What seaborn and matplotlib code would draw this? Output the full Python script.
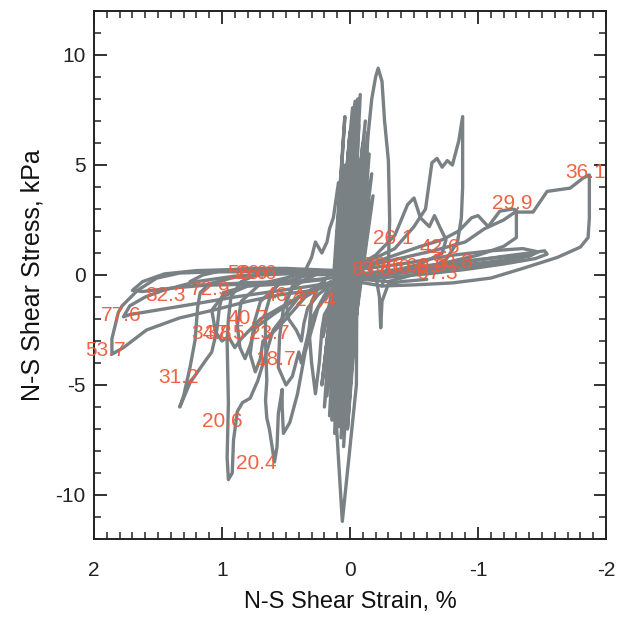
import numpy as np
import pandas as pd
import seaborn as sns
import matplotlib
matplotlib.use("Agg")
import matplotlib.pyplot as plt
from matplotlib.ticker import MultipleLocator

# ---------------- data (strain %, stress kPa) ----------------
center_x = [0.02, -0.02, 0.10, 0.03, 0.15, 0.00, 0.18, 0.04, 0.20, -0.02, 0.12, 0.05, 0.16, -0.05, 0.10,
            0.02, 0.22, -0.04, 0.12, 0.06, -0.05, -0.06, 0.14, -0.08, 0.05, -0.10, 0.12, -0.12, 0.08, -0.14,
            0.02, -0.15, 0.10, -0.17, 0.06, -0.12, 0.13, -0.08, 0.04, -0.18, 0.09, -0.06, 0.11, -0.10, 0.00,
            -0.13, 0.07, -0.04, 0.03]
center_y = [0.0, 3.0, -3.2, 4.5, -4.8, 6.5, -5.5, 7.2, -6.0, 7.6, -7.2, 5.0, -6.4, 7.8, -6.8,
            4.8, -5.0, 7.9, -5.5, -11.2, -5.0, 8.0, -6.6, 8.2, -7.8, 6.0, -6.2, 7.0, -5.8, 6.5,
            -7.0, 5.5, -4.5, 4.6, -6.5, 5.2, -3.8, 4.0, -5.6, 3.6, -4.0, 4.4, -3.0, 3.0, -4.6,
            2.5, -2.0, 1.5, -0.5]
center2_x = [0.05, 0.00, 0.14, -0.03, 0.17, 0.01, 0.09, -0.07, 0.19, -0.01, 0.13, -0.09, 0.07, -0.03,
             0.16, -0.11, 0.10, -0.05, 0.21, -0.02, 0.06, -0.14, 0.12, -0.06, 0.03]
center2_y = [-1.0, 3.5, -5.2, 5.8, -4.2, 4.2, -6.9, 6.8, -3.5, 5.4, -5.9, 4.9, -7.4, 6.2,
             -4.4, 3.8, -6.3, 5.0, -2.8, 3.3, -5.2, 4.1, -3.4, 2.0, -0.6]

peak_x = [-0.05, -0.12, -0.14, -0.17, -0.20, -0.22, -0.25, -0.27, -0.30, -0.31, -0.30, -0.25]
peak_y = [0.0, 4.0, 6.3, 8.0, 9.0, 9.4, 8.8, 7.0, 5.2, 2.5, 0.5, -0.5]

hump_x = [0.35, 0.30, 0.27, 0.22, 0.18, 0.16, 0.13, 0.10, 0.09, 0.07, 0.04]
hump_y = [0.2, 0.8, 1.5, 1.0, 1.5, 2.1, 2.6, 3.8, 4.2, 3.5, 1.0]

loop361_x = [-0.05, -0.35, -0.65, -0.90, -1.05, -1.20, -1.29, -1.43, -1.54, -1.72, -1.82, -1.87, -1.87,
             -1.86, -1.80, -1.62, -1.35, -1.10, -0.80, -0.50, -0.25, -0.05]
loop361_y = [0.3, 0.7, 1.1, 1.5, 2.1, 2.5, 2.86, 2.86, 3.8, 3.95, 4.4, 4.55, 2.6,
             1.7, 1.27, 0.8, 0.3, -0.14, -0.36, -0.45, -0.5, -0.3]

loop299_x = [-0.10, -0.35, -0.55, -0.72, -0.85, -0.95, -1.00, -1.08, -1.17, -1.27, -1.30, -1.30, -1.20,
             -1.00, -0.70, -0.40, -0.10]
loop299_y = [0.4, 0.9, 1.3, 1.6, 2.0, 2.6, 2.7, 2.2, 2.9, 3.0, 2.95, 1.7, 1.3,
             0.9, 0.5, 0.1, -0.1]

spike_x = [-0.10, -0.35, -0.50, -0.59, -0.64, -0.68, -0.72, -0.76, -0.80, -0.85, -0.88, -0.88, -0.87,
           -0.84, -0.75, -0.55, -0.30, -0.10]
spike_y = [0.5, 1.2, 2.2, 3.0, 5.1, 5.3, 4.9, 5.2, 5.0, 6.1, 7.2, 4.0, 2.6,
           1.5, 0.7, 0.1, -0.3, -0.2]

bump_x = [-0.05, -0.20, -0.35, -0.45, -0.50, -0.55, -0.62, -0.66, -0.70, -0.75, -0.72, -0.55, -0.35, -0.15, -0.05]
bump_y = [0.4, 0.9, 1.8, 3.2, 3.5, 2.6, 2.2, 2.7, 2.2, 1.6, 1.0, 0.5, 0.2, 0.0, -0.1]

right1_x = [0.0, -0.3, -0.6, -0.9, -1.2, -1.4, -1.52, -1.54, -1.45, -1.2, -0.9, -0.6, -0.3, 0.0]
right1_y = [-0.1, 0.1, 0.35, 0.6, 0.85, 1.0, 1.1, 0.95, 0.75, 0.5, 0.25, 0.05, -0.1, -0.2]
right2_x = [0.0, -0.4, -0.8, -1.1, -1.35, -1.47, -1.4, -1.1, -0.8, -0.4, 0.0]
right2_y = [0.2, 0.5, 0.9, 1.1, 1.2, 1.05, 0.85, 0.6, 0.4, 0.15, -0.05]
right3_x = [0.0, -0.3, -0.7, -1.0, -1.25, -1.4, -1.3, -1.0, -0.7, -0.3, 0.0]
right3_y = [0.0, 0.2, 0.5, 0.7, 0.85, 0.9, 0.7, 0.45, 0.25, 0.05, -0.1]
right4_x = [-0.10, -0.20, -0.23, -0.24, -0.25, -0.30, -0.40, -0.60]
right4_y = [0.5, 0.0, -1.0, -2.4, -1.2, -0.4, -0.3, -0.2]

loop537_x = [0.10, 0.40, 0.80, 1.07, 1.33, 1.51, 1.66, 1.78, 1.81, 1.86, 1.86, 1.77, 1.59, 1.33, 1.07,
             0.80, 0.55, 0.29, 0.10]
loop537_y = [0.1, 0.15, 0.15, 0.14, 0.09, -0.14, -0.7, -1.4, -1.7, -2.9, -3.6, -3.3, -2.5, -1.95, -1.6,
             -1.2, -0.9, -0.7, -0.4]
loop776_x = [0.10, 0.50, 0.90, 1.20, 1.46, 1.60, 1.72, 1.77, 1.72, 1.46, 1.20, 0.90, 0.60, 0.30, 0.10]
loop776_y = [0.0, 0.05, -0.05, -0.3, -0.7, -1.0, -1.4, -1.9, -1.8, -1.55, -1.3, -1.0, -0.75, -0.5, -0.3]
loop823_x = [0.10, 0.50, 0.90, 1.20, 1.45, 1.62, 1.70, 1.62, 1.40, 1.10, 0.80, 0.50, 0.20]
loop823_y = [0.1, 0.2, 0.25, 0.2, 0.05, -0.3, -0.7, -0.75, -0.6, -0.45, -0.35, -0.3, -0.2]
loop729_x = [0.10, 0.50, 0.80, 1.00, 1.15, 1.25, 1.20, 1.00, 0.70, 0.40, 0.10]
loop729_y = [0.2, 0.3, 0.3, 0.2, 0.0, -0.3, -0.45, -0.45, -0.4, -0.3, -0.1]

loop312_x = [0.60, 0.90, 1.10, 1.17, 1.19, 1.21, 1.25, 1.30, 1.33, 1.25, 1.13, 1.08, 1.04, 1.02, 0.99,
             0.80, 0.50, 0.20]
loop312_y = [0.1, -0.1, -0.4, -0.8, -1.45, -2.95, -4.2, -5.5, -6.0, -4.9, -3.9, -3.5, -2.5, -1.45, -0.8,
             -0.5, -0.4, -0.2]
loop345_x = [0.50, 0.80, 1.00, 1.08, 1.05, 1.00, 0.95, 0.90, 0.85, 0.70, 0.40, 0.20]
loop345_y = [-0.2, -0.5, -1.0, -1.6, -2.6, -3.0, -2.8, -3.3, -2.9, -2.0, -1.0, -0.5]
loop206_x = [0.70, 0.85, 0.93, 0.95, 0.96, 0.95, 0.96, 0.95, 0.92, 0.91, 0.88, 0.84, 0.78, 0.72, 0.60,
             0.40, 0.20]
loop206_y = [0.1, -0.3, -1.0, -2.0, -3.0, -5.8, -8.3, -9.3, -9.0, -7.5, -6.2, -5.8, -5.6, -4.8, -2.5,
             -1.0, -0.3]
loop204_x = [0.40, 0.55, 0.62, 0.66, 0.66, 0.65, 0.66, 0.65, 0.63, 0.59, 0.57, 0.56, 0.53, 0.53, 0.52,
             0.47, 0.41, 0.35, 0.25, 0.10]
loop204_y = [0.1, -0.3, -0.9, -1.7, -3.0, -4.8, -5.7, -6.5, -7.0, -8.5, -7.8, -6.3, -5.2, -6.0, -7.2,
             -6.7, -5.4, -3.5, -1.5, -0.3]
loop187_x = [0.30, 0.45, 0.52, 0.55, 0.56, 0.50, 0.45, 0.40, 0.38, 0.30, 0.15]
loop187_y = [0.0, -0.6, -1.5, -2.8, -4.2, -5.0, -4.6, -3.5, -4.0, -2.0, -0.4]
loop237_x = [0.30, 0.55, 0.70, 0.75, 0.78, 0.74, 0.70, 0.68, 0.60, 0.50, 0.35, 0.15]
loop237_y = [0.05, -0.4, -1.2, -2.2, -3.6, -4.4, -3.8, -3.0, -2.6, -2.0, -1.0, -0.3]
loop407_x = [0.40, 0.70, 0.85, 0.88, 0.86, 0.82, 0.78, 0.74, 0.60, 0.40, 0.20]
loop407_y = [0.0, -0.4, -1.2, -2.3, -3.3, -3.8, -3.2, -2.4, -1.8, -1.0, -0.4]
loop274_x = [0.15, 0.25, 0.30, 0.32, 0.30, 0.27, 0.24, 0.22, 0.20, 0.12, 0.05]
loop274_y = [0.1, -0.6, -1.2, -2.5, -4.0, -5.4, -4.0, -2.5, -1.8, -1.0, -0.3]
loop464_x = [0.20, 0.45, 0.50, 0.48, 0.42, 0.38, 0.36, 0.33, 0.25, 0.10]
loop464_y = [0.2, -0.5, -1.2, -2.0, -2.5, -3.0, -2.2, -1.5, -0.9, -0.2]

label_text = ["36.1", "29.9", "26.1", "42.6", "83.6", "79.6", "60.6", "69.9", "50.8", "67.3",
              "82.3", "72.9", "77.6", "53.7", "56.6", "26.6", "46.4", "27.4", "40.7", "34.8",
              "37.5", "23.7", "18.7", "31.2", "20.6", "20.4"]
label_x = [-1.84, -1.27, -0.34, -0.70, -0.17, -0.27, -0.45, -0.60, -0.80, -0.68,
           1.44, 1.09, 1.79, 1.91, 0.80, 0.73, 0.51, 0.27, 0.80, 1.08,
           0.98, 0.63, 0.58, 1.34, 1.00, 0.73]
label_y = [4.64, 3.23, 1.64, 1.27, 0.23, 0.41, 0.32, 0.40, 0.55, 0.05,
           -0.95, -0.68, -1.86, -3.41, 0.09, 0.05, -0.95, -1.18, -2.0, -2.64,
           -2.64, -2.64, -3.86, -4.68, -6.64, -8.59]

loops = {
    "center": (center_x, center_y), "center2": (center2_x, center2_y),
    "peak": (peak_x, peak_y), "hump": (hump_x, hump_y),
    "l361": (loop361_x, loop361_y), "l299": (loop299_x, loop299_y), "spike": (spike_x, spike_y),
    "bump": (bump_x, bump_y), "r1": (right1_x, right1_y), "r2": (right2_x, right2_y),
    "r3": (right3_x, right3_y), "r4": (right4_x, right4_y),
    "l537": (loop537_x, loop537_y), "l776": (loop776_x, loop776_y), "l823": (loop823_x, loop823_y),
    "l729": (loop729_x, loop729_y), "l312": (loop312_x, loop312_y), "l345": (loop345_x, loop345_y),
    "l206": (loop206_x, loop206_y), "l204": (loop204_x, loop204_y), "l187": (loop187_x, loop187_y),
    "l237": (loop237_x, loop237_y), "l407": (loop407_x, loop407_y), "l274": (loop274_x, loop274_y),
    "l464": (loop464_x, loop464_y),
}

rows = []
for name, (xs, ys) in loops.items():
    for i, (x, y) in enumerate(zip(xs, ys)):
        rows.append({"loop": name, "order": i, "strain": x, "stress": y})
df = pd.DataFrame(rows)

# ---------------- plotting ----------------
sns.set_theme(style="ticks")
plt.rcParams['font.family'] = ['Liberation Sans', 'DejaVu Sans']

GRAY = "#7a8184"
RED = "#f05a3c"

fig = plt.figure(figsize=(6.23, 6.18), dpi=100)
ax = fig.add_axes([94 / 623, 1 - 539 / 618, 512 / 623, 528 / 618])

sns.lineplot(data=df, x="strain", y="stress", units="loop", estimator=None, sort=False,
             color=GRAY, lw=2.4, ax=ax, legend=False)

for t, x, y in zip(label_text, label_x, label_y):
    ax.text(x, y, t, color=RED, fontsize=15, ha="center", va="center", alpha=0.95)

ax.set_xlim(2, -2)
ax.set_ylim(-12, 12)
ax.set_xticks([2, 1, 0, -1, -2])
ax.set_yticks([-10, -5, 0, 5, 10])
ax.set_xticklabels(["2", "1", "0", "-1", "-2"])
ax.set_yticklabels(["-10", "-5", "0", "5", "10"])
ax.xaxis.set_minor_locator(MultipleLocator(0.1))
ax.yaxis.set_minor_locator(MultipleLocator(1))
ax.tick_params(which="both", direction="in", top=True, right=True, colors="#222222")
ax.tick_params(which="major", length=9, width=1.3, labelsize=15)
ax.tick_params(axis="x", which="major", pad=16)
ax.tick_params(axis="y", which="major", pad=6)
ax.tick_params(which="minor", length=5, width=1.1)
for s in ax.spines.values():
    s.set_color("#222222")
    s.set_linewidth(1.4)

ax.set_xlabel("N-S Shear Strain, %", fontsize=17, labelpad=8, color="#111111")
ax.set_ylabel("N-S Shear Stress, kPa", fontsize=18, labelpad=8, color="#111111")

fig.savefig("out.png", dpi=100, facecolor="white")
